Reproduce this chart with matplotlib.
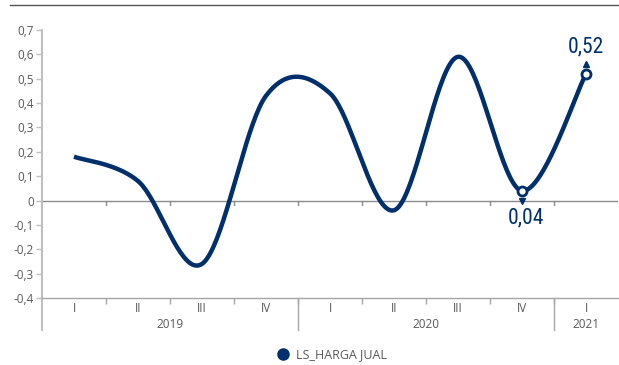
import numpy as np
import matplotlib
matplotlib.use("Agg")
import matplotlib.pyplot as plt
from matplotlib.lines import Line2D
import matplotlib.transforms as mtransforms
from matplotlib import font_manager

quarters = ["I", "II", "III", "IV", "I", "II", "III", "IV", "I"]
years = ["2019", "2020", "2021"]
year_spans = [(0, 3), (4, 7), (8, 8)]
values = [0.18, 0.08, -0.26, 0.43, 0.44, -0.04, 0.59, 0.04, 0.52]
series_name = "LS_HARGA JUAL"
yticks = [-0.4, -0.3, -0.2, -0.1, 0, 0.1, 0.2, 0.3, 0.4, 0.5, 0.6, 0.7]

NAVY = "#002f6c"
GRAY_TXT = "#595959"

names = {f.name for f in font_manager.fontManager.ttflist}
base_font = "Open Sans" if "Open Sans" in names else "DejaVu Sans"
narrow_font = "Roboto"
for cand in ["Liberation Sans Narrow", "DejaVu Sans Condensed", "Roboto Condensed"]:
    if cand in names:
        narrow_font = cand
        break

plt.rcParams["font.family"] = [base_font, "DejaVu Sans"]

W, H = 619, 365
fig = plt.figure(figsize=(W / 100, H / 100), dpi=100)
ax = fig.add_axes([42 / W, 1 - 298 / H, 576 / W, 268 / H])

# Excel-like smoothed line (Catmull-Rom Bezier)
x = np.arange(len(values), dtype=float)
y = np.array(values)
px = np.concatenate([[x[0]], x, [x[-1]]])
py = np.concatenate([[y[0]], y, [y[-1]]])
xs, ys = [], []
t = np.linspace(0, 1, 40)
for i in range(1, len(px) - 2):
    p0 = np.array([px[i], py[i]])
    p3 = np.array([px[i + 1], py[i + 1]])
    c1 = p0 + (np.array([px[i + 1], py[i + 1]]) - np.array([px[i - 1], py[i - 1]])) / 6
    c2 = p3 - (np.array([px[i + 2], py[i + 2]]) - np.array([px[i], py[i]])) / 6
    b = ((1 - t) ** 3)[:, None] * p0 + (3 * (1 - t) ** 2 * t)[:, None] * c1 + \
        (3 * (1 - t) * t ** 2)[:, None] * c2 + (t ** 3)[:, None] * p3
    xs.extend(b[:, 0])
    ys.extend(b[:, 1])
ax.plot(xs, ys, color=NAVY, lw=3.2, solid_capstyle="butt", zorder=5)

# highlighted points
ax.plot(x[-2:], y[-2:], "o", ms=6.5, mfc="white", mec=NAVY, mew=2, zorder=6)

def tri(xi, yi, marker, dy):
    tr = mtransforms.offset_copy(ax.transData, fig=fig, x=0, y=dy, units="dots")
    ax.plot([xi], [yi], marker=marker, ms=4.5, color=NAVY, transform=tr, clip_on=False, zorder=6)

tri(x[8], y[8], "^", 10)
tri(x[7], y[7], "v", -10)
ax.annotate("0,52", (x[8], y[8]), xytext=(0, 27), textcoords="offset pixels",
            ha="center", va="center", fontsize=15.5, color=NAVY, family=narrow_font, zorder=7)
ax.annotate("0,04", (x[7], y[7]), xytext=(4, -27), textcoords="offset pixels",
            ha="center", va="center", fontsize=15.5, color=NAVY, family=narrow_font, zorder=7)

ax.set_xlim(-0.5, len(values) - 0.5)
ax.set_ylim(-0.4, 0.7)
ax.set_yticks(yticks)
ax.set_yticklabels([("%g" % v).replace(".", ",") if v != 0 else "0" for v in yticks])
ax.tick_params(axis="y", length=4, width=1, color="#bfbfbf", labelsize=8.5, labelcolor=GRAY_TXT, pad=2)

ax.set_xticks(x)
ax.set_xticklabels(quarters)
ax.set_xticks(np.arange(0.5, len(values) - 1, 1), minor=True)
ax.tick_params(axis="x", which="major", length=0, labelsize=8.5, labelcolor=GRAY_TXT, pad=3)
ax.tick_params(axis="x", which="minor", length=4, width=1, color="#a6a6a6", direction="out")

for s in ["top", "right"]:
    ax.spines[s].set_visible(False)
ax.spines["left"].set_color("#bfbfbf")
ax.spines["left"].set_linewidth(1.5)
ax.spines["bottom"].set_color("#a6a6a6")
ax.spines["bottom"].set_linewidth(1)

# zero line with ticks
ax.axhline(0, color="#8c8c8c", lw=1, zorder=2)
blend = mtransforms.blended_transform_factory(ax.transData, ax.transAxes)
zero_ax = 0.4 / 1.1
for b in np.arange(0.5, len(values) - 1, 1):
    ax.add_line(Line2D([b, b], [zero_ax, zero_ax - 4 / 268], transform=blend, color="#8c8c8c", lw=1))

# year separators and labels
ext = -32 / 268
for (a, bnd) in year_spans[1:]:
    ax.add_line(Line2D([a - 0.5, a - 0.5], [0, ext], transform=blend, color="#a6a6a6", lw=1, clip_on=False))
ax.add_line(Line2D([-0.5, -0.5], [0, ext], transform=blend, color="#bfbfbf", lw=1.5, clip_on=False))
for name, (a, bnd) in zip(years, year_spans):
    ax.text((a + bnd) / 2, -26 / 268, name, transform=blend, ha="center", va="center",
            fontsize=8.5, color=GRAY_TXT)

# legend
fig.legend(handles=[Line2D([], [], ls="", marker="o", ms=8, color=NAVY, label=series_name)],
           loc="center", bbox_to_anchor=(332 / W, 1 - 355 / H), frameon=False,
           fontsize=9, labelcolor=GRAY_TXT, handletextpad=0.5, handlelength=1)

# top rule
fig.add_artist(Line2D([10 / W, 1], [1 - 5 / H] * 2, color="#555555", lw=1))

fig.savefig("out.png", dpi=100)
